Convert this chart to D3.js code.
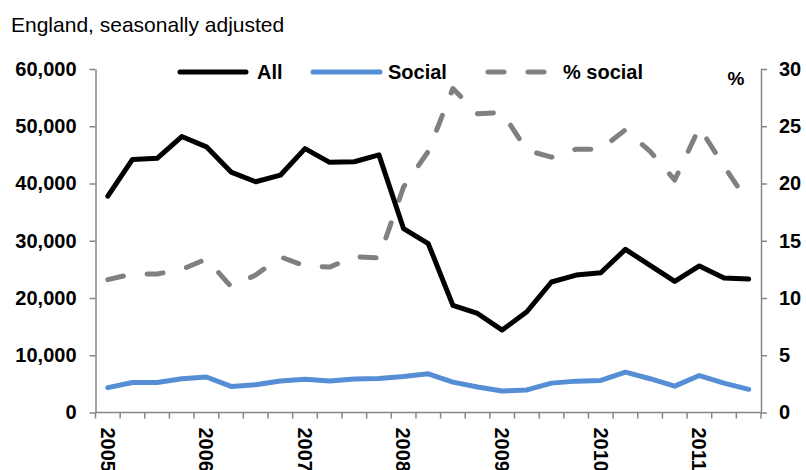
<!DOCTYPE html>
<html>
<head>
<meta charset="utf-8">
<script src="https://cdn.jsdelivr.net/npm/d3@7"></script>
<style>
  html, body { margin: 0; padding: 0; background: #fff; }
  svg { display: block; font-family: "Liberation Sans", Arial, sans-serif; }
</style>
</head>
<body>
<svg id="chart" width="806" height="470"></svg>
<script>
// Quarterly series, 2005 Q1 to 2011 Q3
const years = ["2005", "2006", "2007", "2008", "2009", "2010", "2011"];
const quarters = ["Q1", "Q2", "Q3", "Q4"];
const categories = [];
years.forEach(y => quarters.forEach(q => categories.push(y + " " + q)));
categories.length = 27;

const allSales = [37800, 44200, 44400, 48200, 46400, 42000, 40300, 41450, 46100, 43700, 43800, 45000,
                  32100, 29500, 18700, 17300, 14400, 17600, 22800, 24000, 24400, 28500, 25700, 22900,
                  25600, 23500, 23300];
const socialSales = [4350, 5250, 5250, 5900, 6200, 4550, 4850, 5500, 5800, 5500, 5850, 5950,
                     6300, 6750, 5300, 4450, 3750, 3950, 5130, 5480, 5600, 7050, 5900, 4600,
                     6450, 5130, 4050];
const socialShare = [11.6, 12.1, 12.1, 12.5, 13.4, 11.0, 12.0, 13.6, 12.8, 12.7, 13.6, 13.5,
                     19.7, 22.8, 28.3, 26.1, 26.2, 22.9, 22.3, 23.0, 23.0, 24.7, 22.8, 20.3,
                     24.9, 21.5, 18.3];

const leftTicks = [0, 10000, 20000, 30000, 40000, 50000, 60000];
const rightTicks = [0, 5, 10, 15, 20, 25, 30];

const svg = d3.select("#chart");
const plotLeft = 95.5, plotRight = 761, plotTop = 69, plotBottom = 412.5;
const axisColor = "#868686";
const blue = "#558ED5";
const grey = "#808080";

const x = d3.scaleBand().domain(categories).range([plotLeft, plotRight]).paddingInner(0).paddingOuter(0);
const cx = d => x(d) + x.bandwidth() / 2;
const yL = d3.scaleLinear().domain([0, 60000]).range([plotBottom, plotTop]);
const yR = d3.scaleLinear().domain([0, 30]).range([plotBottom, plotTop]);

// Subtitle
svg.append("text")
  .attr("x", 11).attr("y", 32)
  .attr("font-size", 21).attr("fill", "#000")
  .text("England, seasonally adjusted");

// Left axis
const gL = svg.append("g").attr("transform", `translate(${plotLeft},0)`)
  .call(d3.axisLeft(yL).tickValues(leftTicks).tickFormat(d3.format(",")).tickSize(6).tickSizeOuter(0).tickPadding(13));
// Right axis
const gR = svg.append("g").attr("transform", `translate(${plotRight},0)`)
  .call(d3.axisRight(yR).tickValues(rightTicks).tickSize(6).tickSizeOuter(0).tickPadding(12));

[gL, gR].forEach(g => {
  g.select(".domain").attr("stroke", axisColor).attr("stroke-width", 1.5);
  g.selectAll(".tick line").attr("stroke", axisColor).attr("stroke-width", 1.5);
  g.selectAll(".tick text").attr("font-size", 20).attr("font-weight", "bold")
    .attr("fill", "#000").attr("font-family", "Liberation Sans, Arial, sans-serif");
});

// Bottom axis: baseline with ticks on quarter boundaries
const gB = svg.append("g");
gB.append("line")
  .attr("x1", plotLeft).attr("x2", plotRight).attr("y1", plotBottom).attr("y2", plotBottom)
  .attr("stroke", axisColor).attr("stroke-width", 1.5);
const boundaries = categories.map(c => x(c)).concat([x(categories[categories.length - 1]) + x.bandwidth()]);
gB.selectAll("line.qtick").data(boundaries).enter().append("line")
  .attr("class", "qtick")
  .attr("x1", d => d).attr("x2", d => d)
  .attr("y1", plotBottom).attr("y2", plotBottom + 6)
  .attr("stroke", axisColor).attr("stroke-width", 1.5);

// Year labels under each first quarter, rotated
gB.selectAll("text.year").data(years).enter().append("text")
  .attr("class", "year")
  .attr("transform", d => `translate(${cx(d + " Q1")},${plotBottom + 15}) rotate(90)`)
  .attr("dy", "0.36em")
  .attr("font-size", 20).attr("font-weight", "bold").attr("fill", "#000")
  .text(d => d);

// "%" unit label for right axis
svg.append("text")
  .attr("x", 736).attr("y", 85).attr("text-anchor", "middle")
  .attr("font-size", 19).attr("font-weight", "bold").text("%");

// Lines
const lineL = d3.line().x((d, i) => cx(categories[i])).y(d => yL(d));
const lineR = d3.line().x((d, i) => cx(categories[i])).y(d => yR(d));

svg.append("path").datum(socialShare)
  .attr("d", lineR).attr("fill", "none").attr("stroke", grey)
  .attr("stroke-width", 5).attr("stroke-dasharray", "16,24")
  .attr("stroke-linecap", "round").attr("stroke-linejoin", "round");

svg.append("path").datum(socialSales)
  .attr("d", lineL).attr("fill", "none").attr("stroke", blue)
  .attr("stroke-width", 5).attr("stroke-linecap", "round").attr("stroke-linejoin", "round");

svg.append("path").datum(allSales)
  .attr("d", lineL).attr("fill", "none").attr("stroke", "#000")
  .attr("stroke-width", 5).attr("stroke-linecap", "round").attr("stroke-linejoin", "round");

// Legend
const legendItems = [
  { name: "All", color: "#000", dash: null, x1: 180, x2: 246, tx: 257 },
  { name: "Social", color: blue, dash: null, x1: 313, x2: 380, tx: 388 },
  { name: "% social", color: grey, dash: "16,24", x1: 488, x2: 546, tx: 563 }
];
const lg = svg.append("g");
legendItems.forEach(it => {
  lg.append("line")
    .attr("x1", it.x1).attr("x2", it.x2).attr("y1", 72).attr("y2", 72)
    .attr("stroke", it.color).attr("stroke-width", 5)
    .attr("stroke-linecap", "round")
    .attr("stroke-dasharray", it.dash);
  lg.append("text")
    .attr("x", it.tx).attr("y", 79)
    .attr("font-size", 20).attr("font-weight", "bold").attr("fill", "#000")
    .text(it.name);
});
</script>
</body>
</html>
